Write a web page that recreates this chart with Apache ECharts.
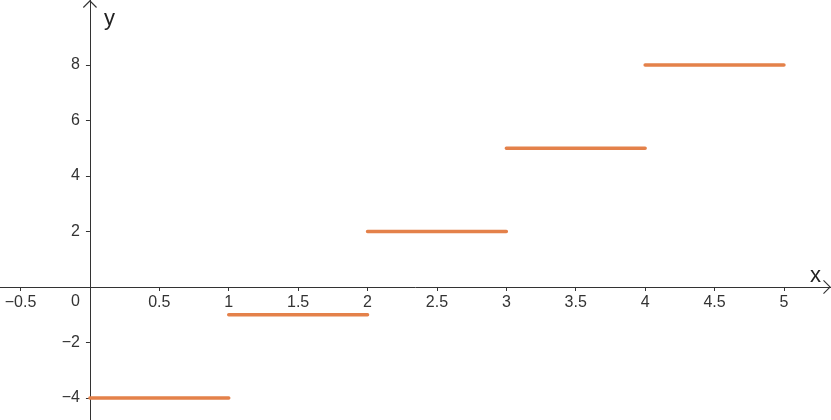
<!DOCTYPE html>
<html>
<head>
<meta charset="utf-8">
<script src="https://cdn.jsdelivr.net/npm/echarts@6/dist/echarts.min.js"></script>
<style>
html,body{margin:0;padding:0;background:#fff;}
#c{width:831px;height:420px;}
</style>
</head>
<body>
<div id="c"></div>
<script>
// Data
var segStart = [0, 1, 2, 3, 4];
var segEnd = [1, 2, 3, 4, 5];
var segValue = [-4, -1, 2, 5, 8];
var xTicks = [-0.5, 0.5, 1, 1.5, 2, 2.5, 3, 3.5, 4, 4.5, 5];
var yTicks = [-4, -2, 0, 2, 4, 6, 8];

var lineData = [];
for (var i = 0; i < segStart.length; i++) {
  lineData.push([segStart[i], segValue[i]]);
  lineData.push([segEnd[i], segValue[i]]);
  lineData.push([segEnd[i], '-']);
}

function fmt(v) { return String(v).replace('-', '\u2212'); }

var W = 831, H = 420;
var xMin = -0.648, xMax = 5.339, yMin = -4.793, yMax = 10.342;
// offsets that place the axes on the zero lines
var xAxisOffset = -((0 - yMin) / (yMax - yMin) * H);
var yAxisOffset = -((0 - xMin) / (xMax - xMin) * W);

var arrow = 'path://M0,0 L7,7 L6.2,7.8 L0,1.6 L-6.2,7.8 L-7,7 Z';
var axisColor = '#333';
var textColor = '#333';
var chart = echarts.init(document.getElementById('c'), null, {renderer: 'canvas'});
chart.setOption({
  animation: false,
  backgroundColor: '#fff',
  grid: {left: 0, right: 0, top: 0, bottom: 0, containLabel: false, outerBoundsMode: 'none'},
  xAxis: {
    type: 'value', position: 'bottom', offset: xAxisOffset,
    min: xMin, max: xMax,
    name: 'x', nameLocation: 'end', nameGap: -21,
    nameTextStyle: {fontSize: 22, color: '#222', align: 'left', verticalAlign: 'bottom', fontFamily: 'Liberation Sans'},
    axisLine: {onZero: false, lineStyle: {color: axisColor, width: 1}, symbol: ['none', arrow], symbolSize: [14, 8], symbolOffset: [0, -4]},
    axisTick: {show: true, length: 4, customValues: xTicks, lineStyle: {color: axisColor}},
    minorTick: {show: false},
    axisLabel: {customValues: xTicks, formatter: fmt, fontSize: 16, color: textColor, margin: 8, fontFamily: 'Liberation Sans'},
    splitLine: {show: false}
  },
  yAxis: {
    type: 'value', position: 'left', offset: yAxisOffset,
    min: yMin, max: yMax,
    name: 'y', nameLocation: 'end', nameGap: -30,
    nameTextStyle: {fontSize: 22, color: '#222', align: 'left', verticalAlign: 'bottom', padding: [0, 0, 0, 14], fontFamily: 'Liberation Sans'},
    axisLine: {onZero: false, lineStyle: {color: axisColor, width: 1}, symbol: ['none', arrow], symbolSize: [14, 8], symbolOffset: [0, -4]},
    axisTick: {show: true, length: 4, customValues: yTicks.filter(function(v){return v !== 0;}), lineStyle: {color: axisColor}},
    minorTick: {show: false},
    axisLabel: {
      customValues: yTicks, fontSize: 16, color: textColor, margin: 10, fontFamily: 'Liberation Sans',
      formatter: function (v) { return v === 0 ? '{o|0}' : fmt(v); },
      rich: {o: {fontSize: 16, color: textColor, padding: [30, 0, 0, 0], fontFamily: 'Liberation Sans'}}
    },
    splitLine: {show: false}
  },
  series: [{
    type: 'line',
    data: lineData,
    connectNulls: false,
    showSymbol: false,
    symbol: 'none',
    lineStyle: {color: '#e4814a', width: 3.5, cap: 'round'},
    z: 5
  }]
});
</script>
</body>
</html>
